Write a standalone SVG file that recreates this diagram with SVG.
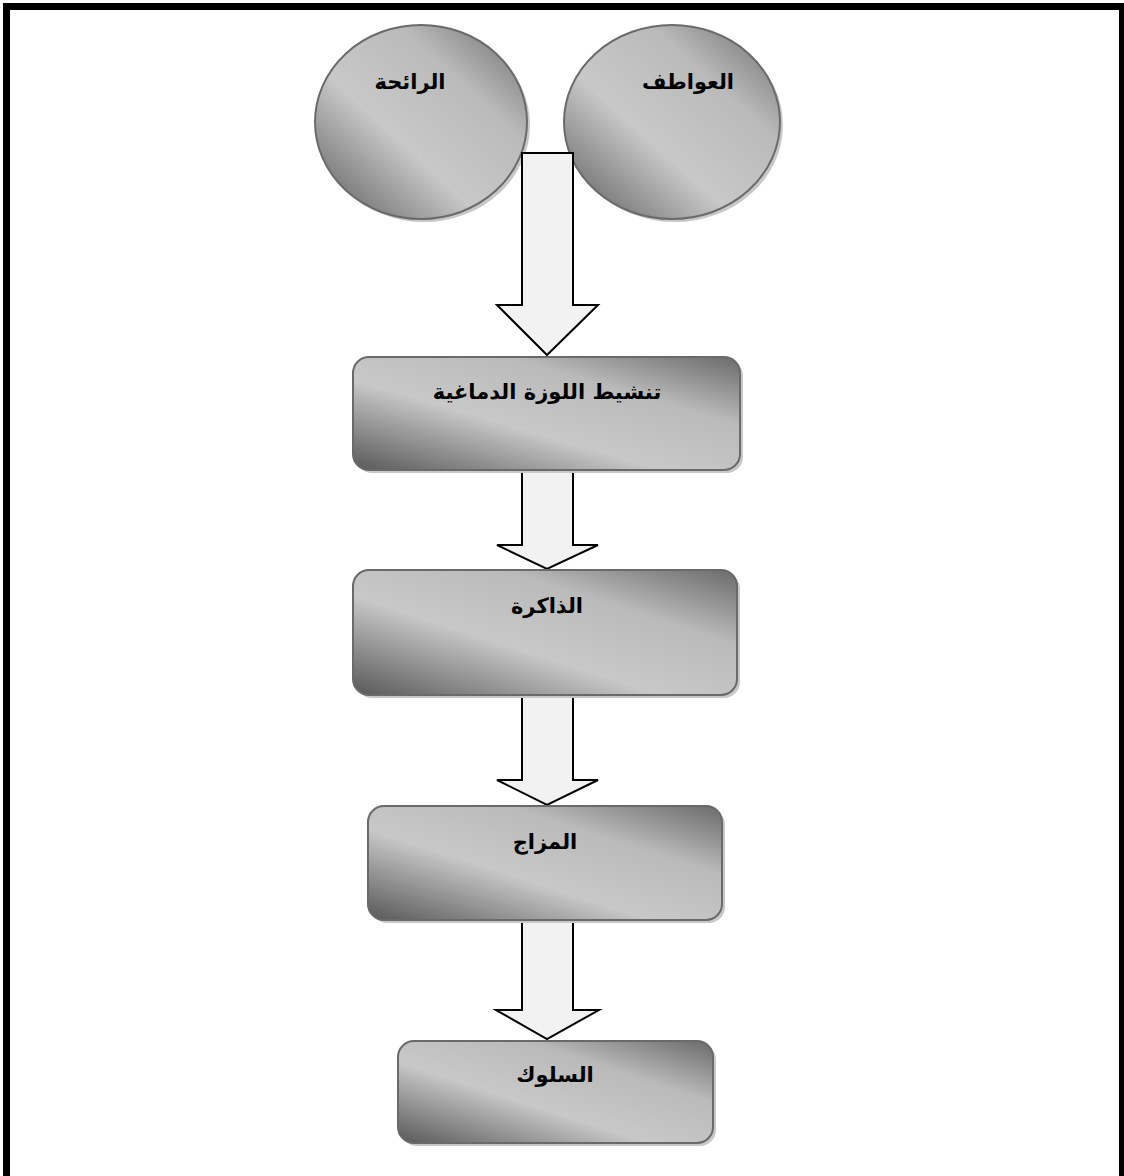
<svg xmlns="http://www.w3.org/2000/svg" width="1124" height="1176" viewBox="0 0 1124 1176">
<defs>
<linearGradient id="g" x1="1" y1="0" x2="0" y2="1">
<stop offset="0" stop-color="#6a6a6a"/>
<stop offset="0.3" stop-color="#bababa"/>
<stop offset="0.6" stop-color="#c8c8c8"/>
<stop offset="1" stop-color="#585858"/>
</linearGradient>
<style>
.shape{fill:url(#g);stroke:#6a6a6a;stroke-width:2}
.sh{fill:#c8c8c8}
.arrow{fill:#f2f2f2;stroke:#000;stroke-width:2;stroke-linejoin:miter}
.t{font-family:"DejaVu Sans","Liberation Sans",sans-serif;font-weight:bold;font-size:21px;fill:#000;text-anchor:middle}
</style>
</defs>
<rect x="0" y="0" width="1124" height="1176" fill="#fff"/>
<rect x="6.5" y="6.5" width="1116" height="1200" fill="none" stroke="#000" stroke-width="7"/>
<g id="node-smell">
<ellipse class="sh" cx="424" cy="125" rx="106" ry="97"/>
<ellipse class="shape" cx="421" cy="122" rx="106" ry="97"/>
<text class="t" x="410" y="89">الرائحة</text>
</g>
<g id="node-emotions">
<ellipse class="sh" cx="675" cy="125" rx="108" ry="97"/>
<ellipse class="shape" cx="672" cy="122" rx="108" ry="97"/>
<text class="t" x="688" y="89">العواطف</text>
</g>
<g id="connectors">
<path class="arrow" d="M522,153 H573 V305 H598 L547,355 L497,305 H522 Z"/>
<path class="arrow" d="M522,470 H573 V545 H598 L547,569 L497,545 H522 Z"/>
<path class="arrow" d="M522,695 H573 V780 H598 L547,805 L497,780 H522 Z"/>
<path class="arrow" d="M522,920 H573 V1010 H599 L547,1039 L496,1010 H522 Z"/>
</g>
<g id="node-amygdala">
<rect class="sh" x="356" y="360" width="387" height="113" rx="16"/>
<rect class="shape" x="353" y="357" width="387" height="113" rx="16"/>
<text class="t" x="547" y="399">تنشيط اللوزة الدماغية</text>
</g>
<g id="node-memory">
<rect class="sh" x="356" y="573" width="384" height="125" rx="16"/>
<rect class="shape" x="353" y="570" width="384" height="125" rx="16"/>
<text class="t" x="547" y="613">الذاكرة</text>
</g>
<g id="node-mood">
<rect class="sh" x="371" y="809" width="354" height="114" rx="16"/>
<rect class="shape" x="368" y="806" width="354" height="114" rx="16"/>
<text class="t" x="545" y="849">المزاج</text>
</g>
<g id="node-behavior">
<rect class="sh" x="401" y="1044" width="315" height="102" rx="16"/>
<rect class="shape" x="398" y="1041" width="315" height="102" rx="16"/>
<text class="t" x="555" y="1082">السلوك</text>
</g>
</svg>
